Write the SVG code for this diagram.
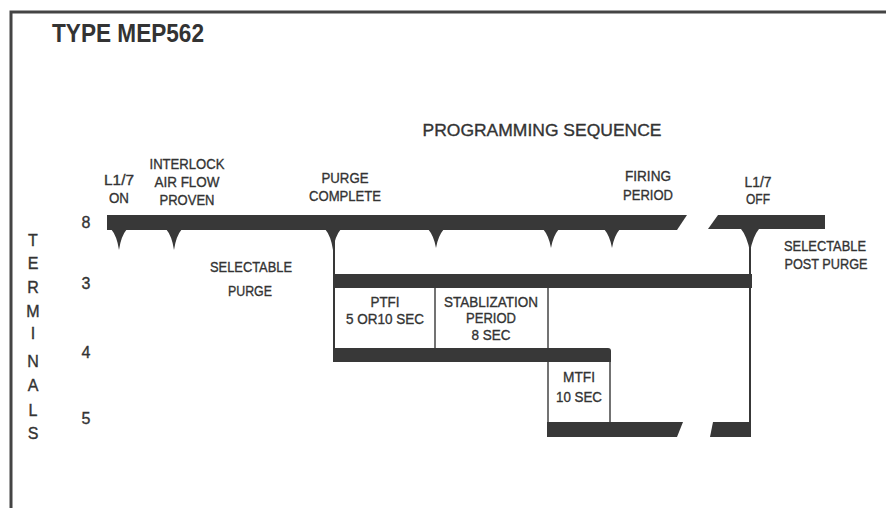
<svg xmlns="http://www.w3.org/2000/svg" width="886" height="508" viewBox="0 0 886 508">
<style>
.t{font-family:"Liberation Sans Narrow","Liberation Sans",Arial,sans-serif;font-size:15px;fill:#333;stroke:#333;stroke-width:0.35;text-anchor:middle}
.b{fill:#383838}
.ln{stroke:#383838;stroke-width:2;fill:none}
.thin{stroke:#444;stroke-width:1.5;fill:none}
</style>
<rect width="886" height="508" fill="#fff"/>
<g id="frame">
<path d="M11,508 V12 H886" stroke="#444" stroke-width="3" fill="none"/>
</g>
<text id="title" x="52" y="42" style="font-family:'Liberation Sans Narrow','Liberation Sans',Arial,sans-serif;font-weight:bold;font-size:25px;fill:#333" textLength="152" lengthAdjust="spacingAndGlyphs">TYPE MEP562</text>
<text class="t" x="542" y="136" textLength="239" lengthAdjust="spacingAndGlyphs" style="font-size:17px">PROGRAMMING SEQUENCE</text>

<g id="terminal-labels">
<text class="t" x="86" y="228" style="font-size:16px">8</text>
<text class="t" x="86" y="289" style="font-size:16px">3</text>
<text class="t" x="86" y="358" style="font-size:16px">4</text>
<text class="t" x="86" y="424" style="font-size:16px">5</text>
<text class="t" x="33" y="246" style="font-size:16px">T</text>
<text class="t" x="33" y="269" style="font-size:16px">E</text>
<text class="t" x="33" y="293" style="font-size:16px">R</text>
<text class="t" x="33" y="317" style="font-size:16px">M</text>
<text class="t" x="33" y="339" style="font-size:16px">I</text>
<text class="t" x="33" y="367" style="font-size:16px">N</text>
<text class="t" x="33" y="391" style="font-size:16px">A</text>
<text class="t" x="33" y="416" style="font-size:16px">L</text>
<text class="t" x="33" y="439" style="font-size:16px">S</text>
</g>

<g id="connectors">
<path class="b" d="M107,215 H687 L677,230 H107 Z"/>
<path class="b" d="M718,215 H825 V229 H708 Z"/>
<path class="b" d="M111,229 Q117,236 119,250 Q121,236 127,229 Z"/>
<path class="b" d="M166,229 Q172,236 174,250 Q176,236 182,229 Z"/>
<path class="b" d="M325,229 Q331,236 333,250 Q335,236 341,229 Z"/>
<path class="b" d="M428,229 Q434,236 436,248 Q438,236 444,229 Z"/>
<path class="b" d="M543,229 Q549,236 551,248 Q553,236 559,229 Z"/>
<path class="b" d="M604,229 Q610,236 612,248 Q614,236 620,229 Z"/>
<path class="b" d="M741,229 Q747,236 750,252 Q753,236 759,229 Z"/>
<line class="ln" x1="334" y1="240" x2="334" y2="362"/>
<line class="ln" x1="750" y1="240" x2="750" y2="437"/>
<rect class="b" x="333" y="274" width="419" height="14"/>
<line class="thin" x1="435" y1="288" x2="435" y2="348"/>
<line class="thin" x1="548" y1="288" x2="548" y2="422"/>
<line class="thin" x1="610" y1="362" x2="610" y2="422"/>
<path class="b" d="M333,348 H608 Q611,348 611,351 V362 H333 Z"/>
<path class="b" d="M547,422 H683 L677,437 H547 Z"/>
<path class="b" d="M713,422 H751 V437 H710 Z"/>
</g>

<g id="event-labels">
<text class="t" x="119" y="185" textLength="30" lengthAdjust="spacingAndGlyphs">L1/7</text>
<text class="t" x="119" y="203" textLength="20" lengthAdjust="spacingAndGlyphs">ON</text>
<text class="t" x="187" y="169" textLength="75" lengthAdjust="spacingAndGlyphs">INTERLOCK</text>
<text class="t" x="187" y="187" textLength="65" lengthAdjust="spacingAndGlyphs">AIR FLOW</text>
<text class="t" x="187" y="205" textLength="55" lengthAdjust="spacingAndGlyphs">PROVEN</text>
<text class="t" x="345" y="183" textLength="47" lengthAdjust="spacingAndGlyphs">PURGE</text>
<text class="t" x="345" y="201" textLength="72" lengthAdjust="spacingAndGlyphs">COMPLETE</text>
<text class="t" x="648" y="181" textLength="46" lengthAdjust="spacingAndGlyphs">FIRING</text>
<text class="t" x="648" y="200" textLength="50" lengthAdjust="spacingAndGlyphs">PERIOD</text>
<text class="t" x="758" y="187" textLength="27" lengthAdjust="spacingAndGlyphs">L1/7</text>
<text class="t" x="758" y="204" textLength="24" lengthAdjust="spacingAndGlyphs">OFF</text>
<text class="t" x="825" y="251" textLength="82" lengthAdjust="spacingAndGlyphs">SELECTABLE</text>
<text class="t" x="826" y="269" textLength="83" lengthAdjust="spacingAndGlyphs">POST PURGE</text>
<text class="t" x="251" y="272" textLength="82" lengthAdjust="spacingAndGlyphs">SELECTABLE</text>
<text class="t" x="250" y="296" textLength="44" lengthAdjust="spacingAndGlyphs">PURGE</text>
</g>

<g id="ptfi">
<text class="t" x="385" y="307" textLength="29" lengthAdjust="spacingAndGlyphs">PTFI</text>
<text class="t" x="385" y="324" textLength="78" lengthAdjust="spacingAndGlyphs">5 OR10 SEC</text>
</g>
<g id="stabilization">
<text class="t" x="491" y="307" textLength="94" lengthAdjust="spacingAndGlyphs">STABLIZATION</text>
<text class="t" x="491" y="323" textLength="50" lengthAdjust="spacingAndGlyphs">PERIOD</text>
<text class="t" x="491" y="340" textLength="39" lengthAdjust="spacingAndGlyphs">8 SEC</text>
</g>
<g id="mtfi">
<text class="t" x="579" y="382" textLength="32" lengthAdjust="spacingAndGlyphs">MTFI</text>
<text class="t" x="579" y="402" textLength="46" lengthAdjust="spacingAndGlyphs">10 SEC</text>
</g>
</svg>
